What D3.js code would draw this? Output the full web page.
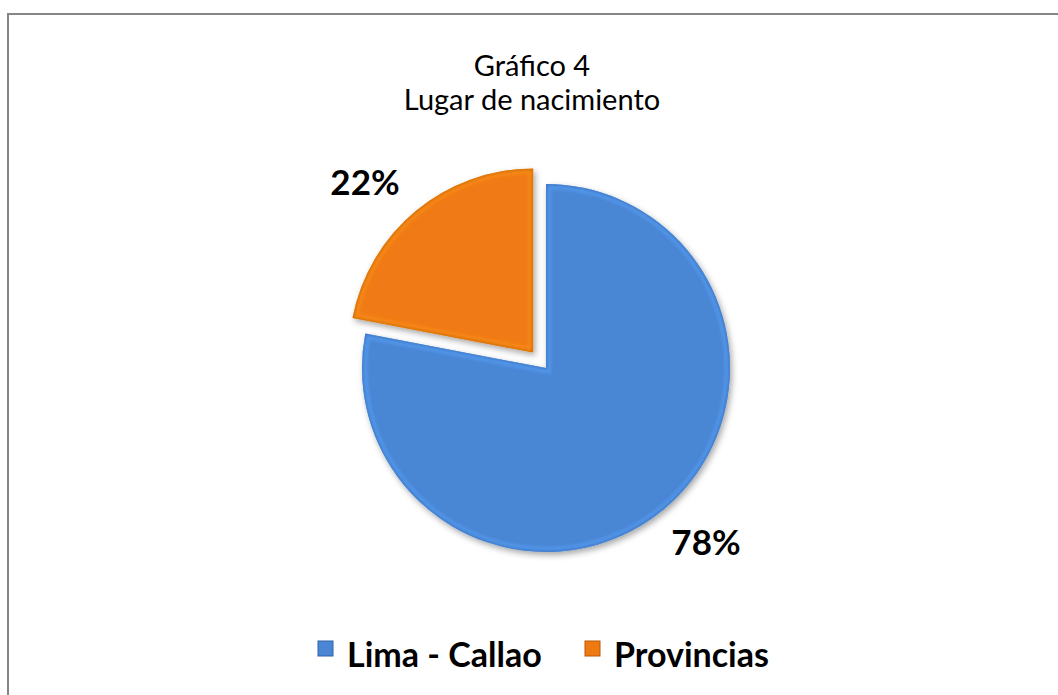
<!DOCTYPE html>
<html><head><meta charset="utf-8">
<script src="https://cdn.jsdelivr.net/npm/d3@7"></script>
<style>body{margin:0;background:#fff}svg{display:block}</style>
</head><body>
<script>
const categories = ["Lima - Callao", "Provincias"];
const values = [78, 22];
const labels = ["78%", "22%"];
const colors = ["#4a86d4", "#f07a12"];
const edgeColors = ["#2f63a8", "#b85a08"];
const explode = [0, 20];
const titleLines = ["Gráfico 4", "Lugar de nacimiento"];

const W = 1058, H = 695;
const svg = d3.select("body").append("svg").attr("width", W).attr("height", H);
const defs = svg.append("defs");
const f = defs.append("filter").attr("id","sh").attr("x","-20%").attr("y","-20%").attr("width","140%").attr("height","140%");
f.append("feDropShadow").attr("dx",2).attr("dy",3).attr("stdDeviation",3).attr("flood-color","#000").attr("flood-opacity",0.35);
const bl = defs.append("filter").attr("id","bl");
bl.append("feGaussianBlur").attr("stdDeviation",1.5);

svg.append("rect").attr("x",8).attr("y",14).attr("width",W+20).attr("height",H+20)
  .attr("fill","#fff").attr("stroke","#868686").attr("stroke-width",2);

const title = svg.append("text").attr("text-anchor","middle")
  .attr("font-family","Lato, 'Open Sans', sans-serif").attr("font-size",29).attr("fill","#000");
titleLines.forEach((t,i)=> title.append("tspan").attr("x",532).attr("y",76+i*34).text(t));

const cx = 546, cy = 368, r = 184;
const pie = d3.pie().sort(null).value(d=>d)(values);
const arc = d3.arc().innerRadius(0).outerRadius(r);
const g = svg.append("g").attr("transform",`translate(${cx},${cy})`);
pie.forEach((p,i)=>{
  const mid = (p.startAngle+p.endAngle)/2;
  const dx = Math.sin(mid)*explode[i], dy = -Math.cos(mid)*explode[i];
  const gg = g.append("g").attr("transform",`translate(${dx},${dy})`);
  defs.append("clipPath").attr("id","c"+i).append("path").attr("d",arc(p));
  gg.append("path").attr("d",arc(p)).attr("fill",colors[i]).attr("filter","url(#sh)");
  const inner = gg.append("g").attr("clip-path","url(#c"+i+")");
  inner.append("path").attr("d",arc(p)).attr("fill","none").attr("stroke",d3.color(colors[i]).brighter(0.6))
    .attr("stroke-width",10).attr("stroke-opacity",0.55).attr("filter","url(#bl)");
  inner.append("path").attr("d",arc(p)).attr("fill","none").attr("stroke",edgeColors[i])
    .attr("stroke-width",3).attr("stroke-opacity",0.6).attr("filter","url(#bl)");
});

const labelPos = [[706,546],[365,186]];
labels.forEach((t,i)=>{
  svg.append("text").attr("x",labelPos[i][0]).attr("y",labelPos[i][1]).attr("text-anchor","middle")
    .attr("dominant-baseline","middle")
    .attr("font-family","Lato, 'Open Sans', sans-serif").attr("font-weight","bold").attr("font-size",35).attr("fill","#000").text(t);
});

const legX = [318, 585];
categories.forEach((c,i)=>{
  svg.append("rect").attr("x",legX[i]).attr("y",641).attr("width",15).attr("height",15)
    .attr("fill",colors[i]).attr("stroke",edgeColors[i]).attr("stroke-width",1);
  svg.append("text").attr("x",legX[i]+29).attr("y",667)
    .attr("font-family","Lato, 'Open Sans', sans-serif").attr("font-weight","bold").attr("font-size",34).attr("fill","#000").text(c);
});
</script>
</body></html>
